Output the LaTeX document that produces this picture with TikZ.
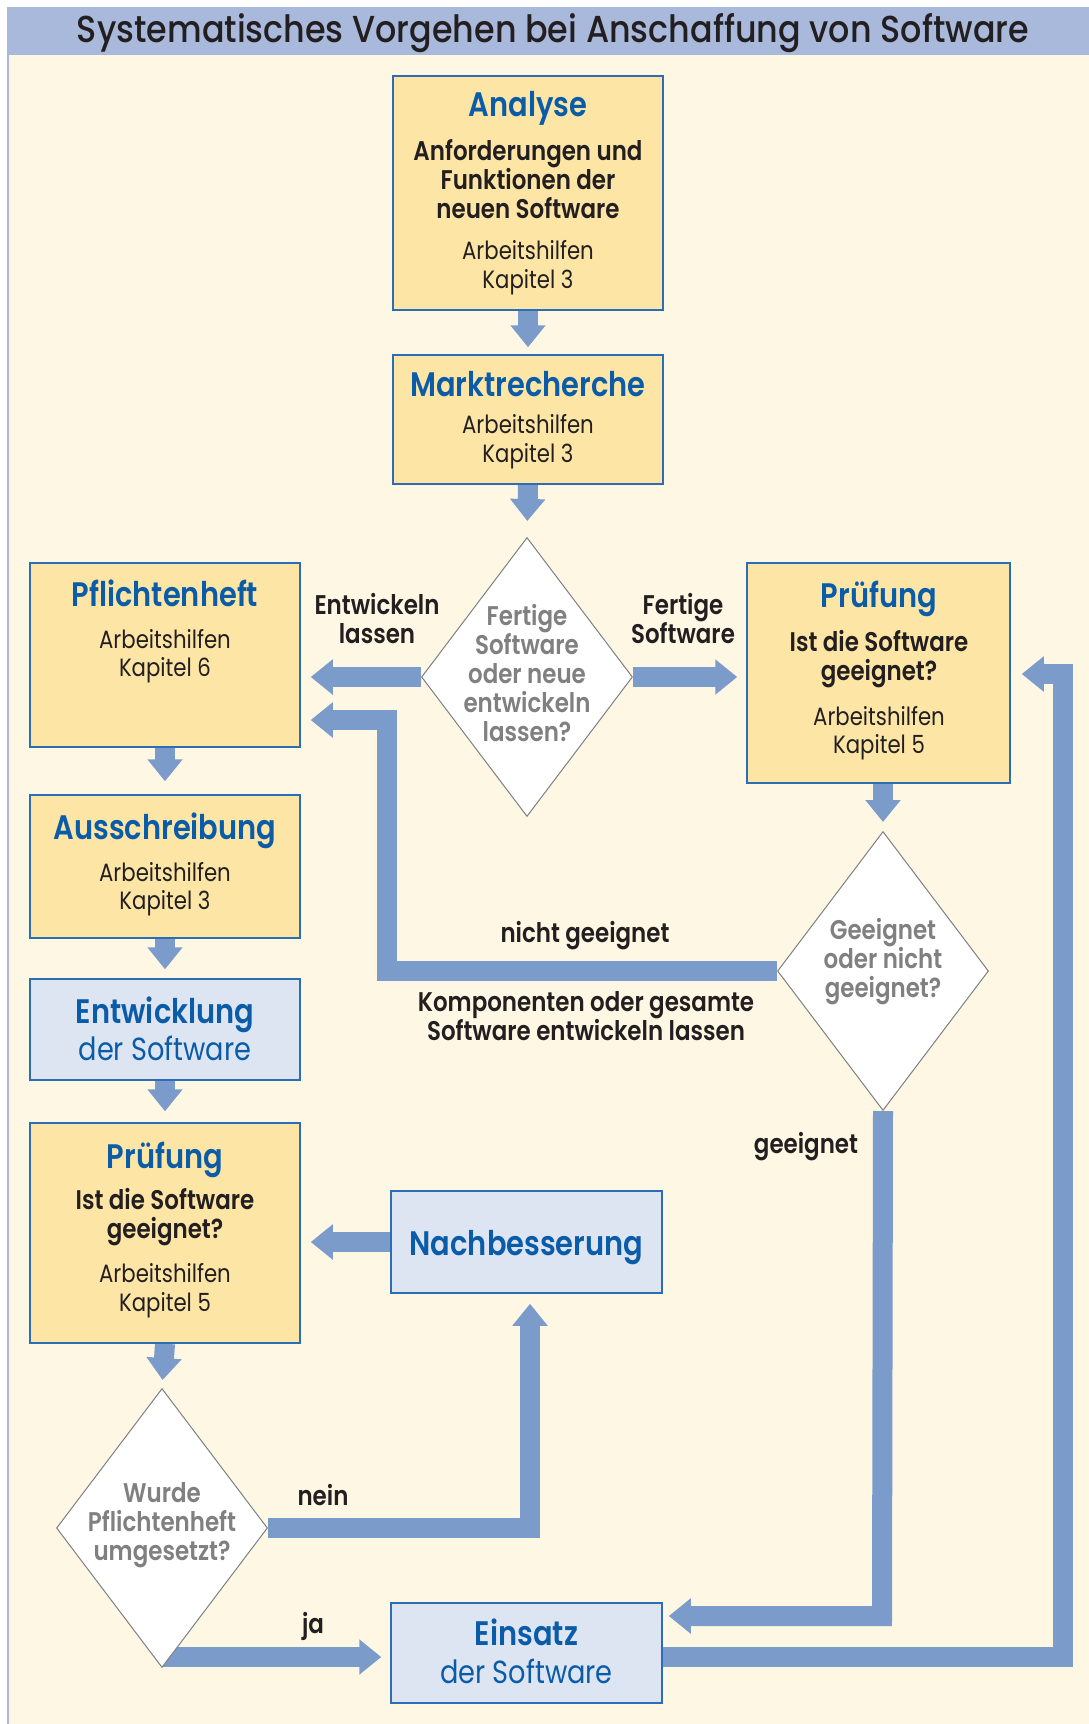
\documentclass[tikz,border=0pt]{standalone}
\usepackage{fontspec}
\IfFontExistsTF{Poppins SemiBold}
 {\setmainfont{Poppins}[FakeStretch=0.85,BoldFont={Poppins SemiBold}]}
 {\setmainfont{Poppins}[FakeStretch=0.85]}
\IfFontExistsTF{Poppins Medium}
 {\newfontfamily\titlefont{Poppins Medium}}
 {\newfontfamily\titlefont{Poppins}}
\usetikzlibrary{arrows.meta,shapes.geometric,calc}
\definecolor{band}{HTML}{A9B9DC}
\definecolor{cream}{HTML}{FEF7E3}
\definecolor{ybox}{HTML}{FDE5A5}
\definecolor{bbox}{HTML}{DEE5F2}
\definecolor{edge}{HTML}{2C6EB5}
\definecolor{arr}{HTML}{7B9BCB}
\definecolor{hblue}{HTML}{0A5CA8}
\definecolor{dgray}{HTML}{808080}
\definecolor{txt}{HTML}{231F20}
\pgfdeclarelayer{bg}\pgfdeclarelayer{arrows}\pgfsetlayers{bg,arrows,main}
\begin{document}
\begin{tikzpicture}[x=1pt,y=-1pt,
 ybx/.style={rectangle, draw=edge, line width=1.5pt, fill=ybox, inner sep=0pt, minimum width=270pt},
 bbx/.style={rectangle, draw=edge, line width=1.5pt, fill=bbox, inner sep=0pt, minimum width=270pt},
 dia/.style={diamond, draw=dgray, line width=1pt, fill=white, inner sep=0pt, minimum width=211pt, minimum height=279pt},
 hd/.style={text=hblue, font=\bfseries\fontsize{34}{38}\selectfont, inner sep=0pt, align=center, text height=25pt, text depth=0pt},
 sub/.style={text=hblue, font=\fontsize{32}{34}\selectfont, inner sep=0pt, align=center},
 bd/.style={text=txt, font=\fontsize{25}{28.5}\selectfont, inner sep=0pt, align=center},
 bb/.style={text=txt, font=\bfseries\fontsize{27}{29}\selectfont, inner sep=0pt, align=center},
 dt/.style={text=dgray, font=\bfseries\fontsize{27}{29}\selectfont, inner sep=0pt, align=center},
 lb/.style={text=txt, font=\bfseries\fontsize{27}{29}\selectfont, inner sep=0pt, align=center},
 flow/.style={draw=arr, line width=20pt, -{Triangle[width=34pt,length=22pt]}}
]
\useasboundingbox (0,0) rectangle (1089,1724);
\begin{pgfonlayer}{bg}
\fill[white] (0,0) rectangle (1089,1724);
\fill[cream] (8,55) rectangle (1089,1724);
\fill[band] (7,7) rectangle (1089,55);
\draw[band, line width=2pt] (8,55) -- (8,1724);
\end{pgfonlayer}
\node[anchor=base, text=txt, inner sep=0pt] (title) at (553,42)
 {\resizebox{952pt}{29pt}{\titlefont\fontsize{30}{30}\selectfont Systematisches Vorgehen bei Anschaffung von Software}};
% boxes
\node[ybx, minimum height=234pt] (ana) at (528,193) {};
\node[ybx, minimum height=129pt] (mkt) at (528,419.5) {};
\node[ybx, minimum height=184pt] (pfl) at (165,655) {};
\node[ybx, minimum width=263pt, minimum height=220pt] (prR) at (878.5,673) {};
\node[ybx, minimum height=143pt] (aus) at (165,866.5) {};
\node[bbx, minimum height=101pt] (ent) at (165,1029.5) {};
\node[ybx, minimum height=220pt] (prL) at (165,1233) {};
\node[bbx, minimum width=271pt, minimum height=102pt] (nach) at (526.5,1242) {};
\node[bbx, minimum width=271pt, minimum height=100pt] (ein) at (526.5,1653) {};
\node[dia] (d1) at (527,677) {};
\node[dia] (d2) at (162,1528) {};
\node[dia] (d3) at (883,971) {};
% texts
\node[hd] (anaH) at (528,104) {Analyse};
\node[bb] (anaB) at (528,179.5) {Anforderungen und\\Funktionen der\\neuen Software};
\node[bd] (anaK) at (528,267.5) {Arbeitshilfen\\Kapitel 3};
\node[hd] (mktH) at (528,384) {Marktrecherche};
\node[bd] (mktK) at (528,441.5) {Arbeitshilfen\\Kapitel 3};
\node[dt] (d1T) at (527,673.5) {Fertige\\Software\\oder neue\\entwickeln\\lassen?};
\node[lb] (lEnt) at (377,619) {Entwickeln\\lassen};
\node[lb] (lFer) at (683,619) {Fertige\\Software};
\node[hd] (pflH) at (165,594) {Pflichtenheft};
\node[bd] (pflK) at (165,656) {Arbeitshilfen\\Kapitel 6};
\node[hd] (prRH) at (879,595) {Prüfung};
\node[bb] (prRB) at (879,659) {Ist die Software\\geeignet?};
\node[bd] (prRK) at (879,733) {Arbeitshilfen\\Kapitel 5};
\node[hd] (ausH) at (165,827) {Ausschreibung};
\node[bd] (ausK) at (165,889) {Arbeitshilfen\\Kapitel 3};
\node[hd] (entH) at (165,1011) {Entwicklung};
\node[sub] (entS) at (165,1048) {der Software};
\node[hd] (prLH) at (165,1156) {Prüfung};
\node[bb] (prLB) at (165,1217.5) {Ist die Software\\geeignet?};
\node[bd] (prLK) at (165,1290.5) {Arbeitshilfen\\Kapitel 5};
\node[hd] (nachH) at (526.5,1243) {Nachbesserung};
\node[dt] (d2T) at (162,1525.5) {Wurde\\Pflichtenheft\\umgesetzt?};
\node[dt] (d3T) at (883,962) {Geeignet\\oder nicht\\geeignet?};
\node[lb] (lNg) at (585,936) {nicht geeignet};
\node[lb] (lKo) at (586,1016.5) {Komponenten oder gesamte\\Software entwickeln lassen};
\node[lb] (lGe) at (806,1147) {geeignet};
\node[lb] (lNein) at (323,1495) {nein};
\node[lb] (lJa) at (313,1626) {ja};
\node[hd] (einH) at (526.5,1633) {Einsatz};
\node[sub] (einS) at (526.5,1671) {der Software};
% connectors
\coordinate (nk) at (530,1528);
\coordinate (jaS) at (162,1657);
\coordinate (gk) at (882,1616);
\coordinate (nk1) at (387,971);
\coordinate (nk2) at (387,720);
\coordinate (lp1) at (1063,1657);
\coordinate (lp2) at (1063,674);
\begin{pgfonlayer}{arrows}
\draw[flow, shorten >=7pt] (ana.south) -- (mkt.north);
\draw[flow, shorten >=16pt] (mkt.south) -- (d1.north);
\draw[flow, shorten >=10pt] (d1.west) -- (d1.west -| pfl.east);
\draw[flow, shorten >=9pt] (d1.east) -- (d1.east -| prR.west);
\draw[flow, shorten >=13pt] (pfl.south) -- (aus.north);
\draw[flow, shorten >=9pt] (aus.south) -- (ent.north);
\draw[flow, shorten >=11pt] (ent.south) -- (prL.north);
\draw[flow, shorten >=8pt] (prL.south) -- (d2.north);
\draw[flow, shorten >=9pt] (prR.south -| d3.north) -- (d3.north);
\draw[flow, shorten >=10pt] (nach.west) -- (nach.west -| prL.east);
\draw[flow, shorten >=10pt] (d2.east) -- (nk) -- (nk |- nach.south);
\draw[flow, shorten >=9pt] (jaS) -- (jaS -| ein.west);
\draw[flow, shorten >=6pt] (d3.south) -- (gk) -- (gk -| ein.east);
\draw[flow, shorten >=10pt] (d3.west) -- (nk1) -- (nk2) -- (nk2 -| pfl.east);
\draw[flow, shorten >=11pt] (ein.east |- lp1) -- (lp1) -- (lp2) -- (lp2 -| prR.east);
\end{pgfonlayer}
\end{tikzpicture}
\end{document}
